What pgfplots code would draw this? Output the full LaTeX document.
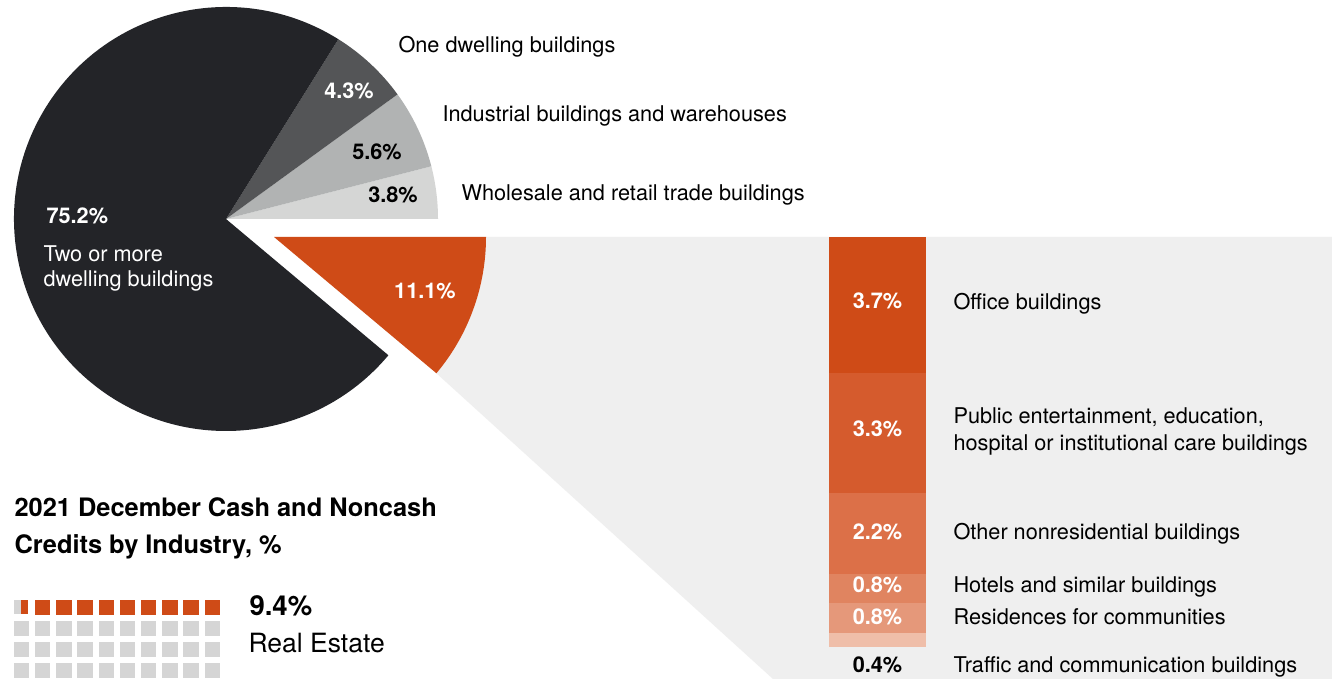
\documentclass[border=0pt]{standalone}
\usepackage{pgfplots}
\pgfplotsset{compat=1.18}
\usepackage{fontspec}
\setmainfont{TeX Gyre Heros}
\definecolor{cdark}{RGB}{35,36,40}
\definecolor{cone}{RGB}{84,85,87}
\definecolor{cind}{RGB}{177,179,179}
\definecolor{cwhole}{RGB}{213,214,213}
\definecolor{corange}{RGB}{207,75,23}
\definecolor{cpub}{RGB}{213,91,45}
\definecolor{cother}{RGB}{220,112,72}
\definecolor{chotel}{RGB}{224,132,96}
\definecolor{cres}{RGB}{229,152,122}
\definecolor{ctraffic}{RGB}{239,190,169}
\definecolor{cbg}{RGB}{239,239,239}
\definecolor{cwaf}{RGB}{213,213,213}
\definecolor{ctext}{RGB}{17,17,17}
\newcommand\lab{\fontsize{21.7}{26}\selectfont}
\newcommand\ttl{\fontsize{25.4}{30}\selectfont\bfseries}
\newcommand\bigf{\fontsize{26.5}{31}\selectfont}
\begin{document}
\begin{tikzpicture}
\begin{axis}[
  name=main, x=1pt, y=1pt, xmin=0, xmax=1332, ymin=0, ymax=679,
  scale only axis, hide axis, clip=false,
  every node/.style={inner sep=0pt, outer sep=0pt, text=ctext}]
\coordinate (BL) at (axis cs:0,0);
\coordinate (TR) at (axis cs:1332,679);
\path[fill=white] (axis cs:0,0) rectangle (axis cs:1332,679);
% grey zoom background
\fill[cbg] (axis cs:486,442) -- (axis cs:1332,442) -- (axis cs:1332,0) -- (axis cs:773,0) -- (axis cs:436.4,305.7) -- cycle;
% pie slices (labelled shares 3.8, 5.6, 4.3, 75.2, 11.1; angles as drawn)
\fill[cwhole] (axis cs:226,460) -- (axis cs:{226+212*cos(0)},{460+212*sin(0)}) arc[start angle=0,end angle=14.4,radius=212] -- cycle;
\fill[cind] (axis cs:226,460) -- (axis cs:{226+212*cos(14.4)},{460+212*sin(14.4)}) arc[start angle=14.4,end angle=36,radius=212] -- cycle;
\fill[cone] (axis cs:226,460) -- (axis cs:{226+212*cos(36)},{460+212*sin(36)}) arc[start angle=36,end angle=58,radius=212] -- cycle;
\fill[cdark] (axis cs:226,460) -- (axis cs:{226+212*cos(58)},{460+212*sin(58)}) arc[start angle=58,end angle=320,radius=212] -- cycle;
\fill[corange] (axis cs:274,442) -- (axis cs:486,442) arc[start angle=0,end angle=-40,radius=212] -- cycle;
% waffle (9.4 of 100 cells)
\addplot[only marks, mark=square*, mark size=7.2pt, color=cwaf] coordinates {
 (21.2,51) (42.4,51) (63.6,51) (84.8,51) (106,51) (127.2,51) (148.4,51) (169.6,51) (190.8,51) (212,51)
 (21.2,30) (42.4,30) (63.6,30) (84.8,30) (106,30) (127.2,30) (148.4,30) (169.6,30) (190.8,30) (212,30)
 (21.2,9) (42.4,9) (63.6,9) (84.8,9) (106,9) (127.2,9) (148.4,9) (169.6,9) (190.8,9) (212,9)};
\addplot[only marks, mark=square*, mark size=7.2pt, color=corange] coordinates {
 (42.4,72) (63.6,72) (84.8,72) (106,72) (127.2,72) (148.4,72) (169.6,72) (190.8,72) (212,72)};
\addplot[fill=cwaf, draw=none, no marks] coordinates {(14,64.8) (21.2,64.8) (21.2,79.2) (14,79.2)} -- cycle;
\addplot[fill=corange, draw=none, no marks] coordinates {(21.2,64.8) (28.4,64.8) (28.4,79.2) (21.2,79.2)} -- cycle;
% pie labels
\node[anchor=base west] at (axis cs:395,626) {\lab One dwelling buildings};
\node[anchor=base west] at (axis cs:439,557) {\lab Industrial buildings and warehouses};
\node[anchor=base west] at (axis cs:458,478) {\lab Wholesale and retail trade buildings};
\node[anchor=base, text=white] at (axis cs:349,580) {\lab\bfseries 4.3\%};
\node[anchor=base] at (axis cs:377,519) {\lab\bfseries 5.6\%};
\node[anchor=base] at (axis cs:393,476) {\lab\bfseries 3.8\%};
\node[anchor=base west, text=white] at (axis cs:43,455) {\lab\bfseries 75.2\%};
\node[anchor=base west, text=white] at (axis cs:40,417) {\lab Two or more};
\node[anchor=base west, text=white] at (axis cs:40,392) {\lab dwelling buildings};
\node[anchor=base, text=white] at (axis cs:425,380) {\lab\bfseries 11.1\%};
% title and waffle legend
\node[anchor=base west] at (axis cs:11,162) {\ttl 2021 December Cash and Noncash};
\node[anchor=base west] at (axis cs:11,125) {\ttl Credits by Industry, \%};
\node[anchor=base west] at (axis cs:246,63) {\fontsize{27.5}{31}\selectfont\bfseries 9.4\%};
\node[anchor=base west] at (axis cs:245,26) {\bigf Real Estate};
% bar label anchors
\coordinate (La) at (axis cs:877.5,370);
\coordinate (Lb) at (axis cs:877.5,242);
\coordinate (Lc) at (axis cs:877.5,139);
\coordinate (Ld) at (axis cs:877.5,86);
\coordinate (Le) at (axis cs:877.5,54);
\node[anchor=base] at (axis cs:877.5,6) {\lab\bfseries 0.4\%};
\node[anchor=base west] at (axis cs:950,369) {\lab Office buildings};
\node[anchor=base west] at (axis cs:950,255) {\lab Public entertainment, education,};
\node[anchor=base west] at (axis cs:950,228) {\lab hospital or institutional care buildings};
\node[anchor=base west] at (axis cs:950,139) {\lab Other nonresidential buildings};
\node[anchor=base west] at (axis cs:950,86) {\lab Hotels and similar buildings};
\node[anchor=base west] at (axis cs:950,54) {\lab Residences for communities};
\node[anchor=base west] at (axis cs:950,6) {\lab Traffic and communication buildings};
\end{axis}
\begin{axis}[
  at={(BL)}, anchor=origin, xshift=829pt, yshift=31.7pt,
  width=97pt, height=410.3pt, scale only axis, hide axis,
  xmin=0, xmax=1, ymin=0, ymax=11.2,
  ybar stacked, bar width=97pt, bar shift=0pt]
\addplot[fill=ctraffic, draw=none] coordinates {(0.5,0.4)};
\addplot[fill=cres, draw=none] coordinates {(0.5,0.8)};
\addplot[fill=chotel, draw=none] coordinates {(0.5,0.8)};
\addplot[fill=cother, draw=none] coordinates {(0.5,2.2)};
\addplot[fill=cpub, draw=none] coordinates {(0.5,3.3)};
\addplot[fill=corange, draw=none] coordinates {(0.5,3.7)};
\end{axis}
\begin{scope}[every node/.style={inner sep=0pt, outer sep=0pt, text=white, anchor=base}]
\node at (La) {\lab\bfseries 3.7\%};
\node at (Lb) {\lab\bfseries 3.3\%};
\node at (Lc) {\lab\bfseries 2.2\%};
\node at (Ld) {\lab\bfseries 0.8\%};
\node at (Le) {\lab\bfseries 0.8\%};
\end{scope}
\pgfresetboundingbox
\useasboundingbox (BL) rectangle (TR);
\end{tikzpicture}
\end{document}
